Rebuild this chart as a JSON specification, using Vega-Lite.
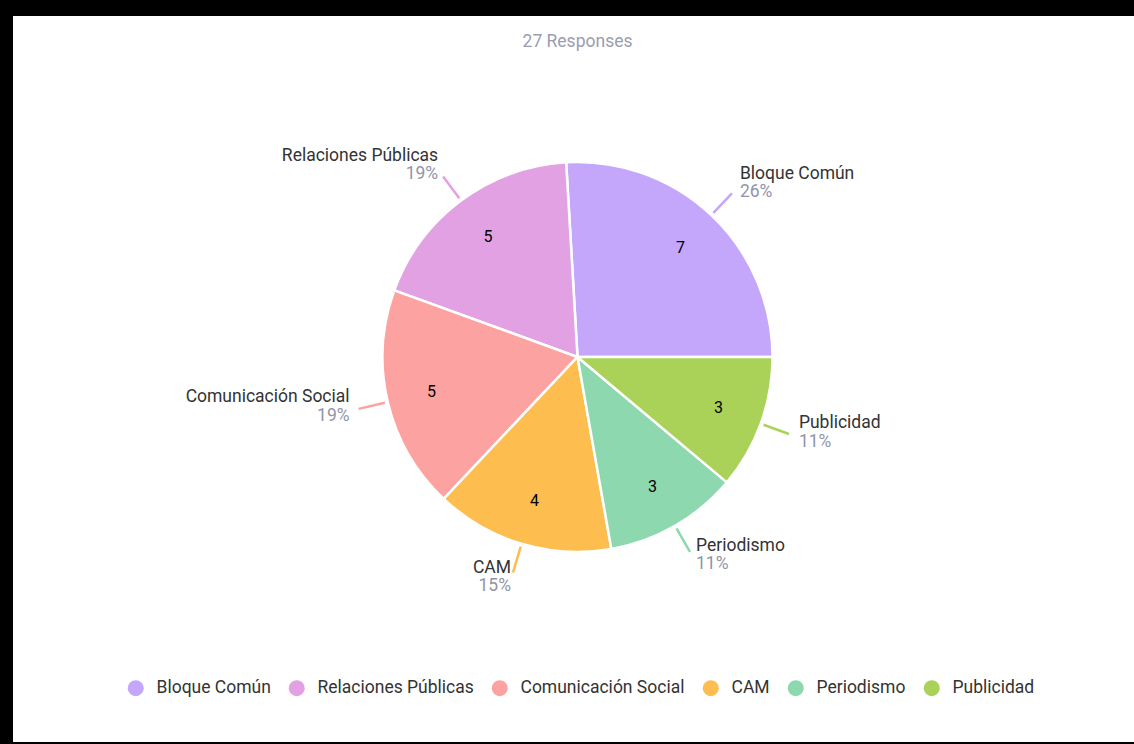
{
  "$schema": "https://vega.github.io/schema/vega-lite/v6.json",
  "width": 1121,
  "height": 726,
  "autosize": {"type": "none"},
  "padding": {"left": 13, "top": 16, "right": 0, "bottom": 2},
  "background": "black",
  "view": {"fill": "white", "stroke": null},
  "title": {"text": "27 Responses", "anchor": "middle", "frame": "group", "offset": -52, "baseline": "bottom", "dx": 4, "font": "Roboto", "fontSize": 17.5, "fontWeight": "normal", "color": "#9a9db0"},
  "data": {"values": [
    {"category": "Bloque Común", "count": 7, "pct": "26%"},
    {"category": "Relaciones Públicas", "count": 5, "pct": "19%"},
    {"category": "Comunicación Social", "count": 5, "pct": "19%"},
    {"category": "CAM", "count": 4, "pct": "15%"},
    {"category": "Periodismo", "count": 3, "pct": "11%"},
    {"category": "Publicidad", "count": 3, "pct": "11%"}
  ]},
  "transform": [{"window": [{"op": "row_number", "as": "rank"}]}],
  "encoding": {
    "theta": {"field": "count", "type": "quantitative", "stack": true, "scale": {"range": [1.5708, -4.7124]}},
    "order": {"field": "rank", "type": "quantitative"}
  },
  "layer": [
    {
      "mark": {"type": "arc", "outerRadius": 195, "stroke": "white", "strokeWidth": 2.5, "x": {"expr": "width/2 + 4"}, "y": {"expr": "height/2 - 22"}},
      "encoding": {
        "color": {"field": "category", "type": "nominal",
          "scale": {"domain": ["Bloque Común", "Relaciones Públicas", "Comunicación Social", "CAM", "Periodismo", "Publicidad"],
                    "range": ["#c4a6fb", "#e2a1e2", "#fca3a1", "#fdbd4f", "#8dd8ae", "#aad259"]},
          "legend": {"orient": "none", "legendX": 114, "legendY": 663, "direction": "horizontal", "title": null, "symbolType": "circle", "symbolSize": 256, "symbolStrokeWidth": 0, "labelFontSize": 17.5, "labelFont": "Roboto", "labelColor": "#333333", "labelOffset": 12, "labelLimit": 400, "columnPadding": 17}}
      }
    },
    {
      "mark": {"type": "arc", "innerRadius": 198, "outerRadius": 225, "padAngle": 3, "fill": null, "strokeWidth": 2.5, "x": {"expr": "width/2 + 4"}, "y": {"expr": "height/2 - 22"}},
      "encoding": {
        "stroke": {"field": "category", "type": "nominal", "legend": null,
          "scale": {"domain": ["Bloque Común", "Relaciones Públicas", "Comunicación Social", "CAM", "Periodismo", "Publicidad"],
                    "range": ["#c4a6fb", "#e2a1e2", "#fca3a1", "#fdbd4f", "#8dd8ae", "#aad259"]}}
      }
    },
    {
      "mark": {"type": "text", "radius": 150, "font": "Roboto", "fontSize": 16, "color": "black", "baseline": "middle", "align": "center", "x": {"expr": "width/2 + 4"}, "y": {"expr": "height/2 - 22"}},
      "encoding": {"text": {"field": "count", "type": "quantitative"}}
    },
    {
      "mark": {"type": "text", "radius": 225, "font": "Roboto", "fontSize": 17.5, "color": "#333333", "baseline": "middle", "align": "left", "dx": 8, "dy": -19, "x": {"expr": "width/2 + 4"}, "y": {"expr": "height/2 - 22"}},
      "encoding": {"text": {"condition": {"test": "datum.category === 'Bloque Común'", "field": "category"}, "value": ""}}
    },
    {
      "mark": {"type": "text", "radius": 225, "font": "Roboto", "fontSize": 17.5, "color": "#9094a8", "baseline": "middle", "align": "left", "dx": 8, "dy": -1, "x": {"expr": "width/2 + 4"}, "y": {"expr": "height/2 - 22"}},
      "encoding": {"text": {"condition": {"test": "datum.category === 'Bloque Común'", "field": "pct"}, "value": ""}}
    },
    {
      "mark": {"type": "text", "radius": 225, "font": "Roboto", "fontSize": 17.5, "color": "#333333", "baseline": "middle", "align": "right", "dx": -5, "dy": -21, "x": {"expr": "width/2 + 4"}, "y": {"expr": "height/2 - 22"}},
      "encoding": {"text": {"condition": {"test": "datum.category === 'Relaciones Públicas'", "field": "category"}, "value": ""}}
    },
    {
      "mark": {"type": "text", "radius": 225, "font": "Roboto", "fontSize": 17.5, "color": "#9094a8", "baseline": "middle", "align": "right", "dx": -5, "dy": -3, "x": {"expr": "width/2 + 4"}, "y": {"expr": "height/2 - 22"}},
      "encoding": {"text": {"condition": {"test": "datum.category === 'Relaciones Públicas'", "field": "pct"}, "value": ""}}
    },
    {
      "mark": {"type": "text", "radius": 225, "font": "Roboto", "fontSize": 17.5, "color": "#333333", "baseline": "middle", "align": "right", "dx": -9, "dy": -12, "x": {"expr": "width/2 + 4"}, "y": {"expr": "height/2 - 22"}},
      "encoding": {"text": {"condition": {"test": "datum.category === 'Comunicación Social'", "field": "category"}, "value": ""}}
    },
    {
      "mark": {"type": "text", "radius": 225, "font": "Roboto", "fontSize": 17.5, "color": "#9094a8", "baseline": "middle", "align": "right", "dx": -9, "dy": 7, "x": {"expr": "width/2 + 4"}, "y": {"expr": "height/2 - 22"}},
      "encoding": {"text": {"condition": {"test": "datum.category === 'Comunicación Social'", "field": "pct"}, "value": ""}}
    },
    {
      "mark": {"type": "text", "radius": 225, "font": "Roboto", "fontSize": 17.5, "color": "#333333", "baseline": "middle", "align": "right", "dx": -2, "dy": -5, "x": {"expr": "width/2 + 4"}, "y": {"expr": "height/2 - 22"}},
      "encoding": {"text": {"condition": {"test": "datum.category === 'CAM'", "field": "category"}, "value": ""}}
    },
    {
      "mark": {"type": "text", "radius": 225, "font": "Roboto", "fontSize": 17.5, "color": "#9094a8", "baseline": "middle", "align": "right", "dx": -2, "dy": 13, "x": {"expr": "width/2 + 4"}, "y": {"expr": "height/2 - 22"}},
      "encoding": {"text": {"condition": {"test": "datum.category === 'CAM'", "field": "pct"}, "value": ""}}
    },
    {
      "mark": {"type": "text", "radius": 225, "font": "Roboto", "fontSize": 17.5, "color": "#333333", "baseline": "middle", "align": "left", "dx": 6, "dy": -6, "x": {"expr": "width/2 + 4"}, "y": {"expr": "height/2 - 22"}},
      "encoding": {"text": {"condition": {"test": "datum.category === 'Periodismo'", "field": "category"}, "value": ""}}
    },
    {
      "mark": {"type": "text", "radius": 225, "font": "Roboto", "fontSize": 17.5, "color": "#9094a8", "baseline": "middle", "align": "left", "dx": 6, "dy": 12, "x": {"expr": "width/2 + 4"}, "y": {"expr": "height/2 - 22"}},
      "encoding": {"text": {"condition": {"test": "datum.category === 'Periodismo'", "field": "pct"}, "value": ""}}
    },
    {
      "mark": {"type": "text", "radius": 225, "font": "Roboto", "fontSize": 17.5, "color": "#333333", "baseline": "middle", "align": "left", "dx": 10, "dy": -11, "x": {"expr": "width/2 + 4"}, "y": {"expr": "height/2 - 22"}},
      "encoding": {"text": {"condition": {"test": "datum.category === 'Publicidad'", "field": "category"}, "value": ""}}
    },
    {
      "mark": {"type": "text", "radius": 225, "font": "Roboto", "fontSize": 17.5, "color": "#9094a8", "baseline": "middle", "align": "left", "dx": 10, "dy": 8, "x": {"expr": "width/2 + 4"}, "y": {"expr": "height/2 - 22"}},
      "encoding": {"text": {"condition": {"test": "datum.category === 'Publicidad'", "field": "pct"}, "value": ""}}
    }
  ]
}
